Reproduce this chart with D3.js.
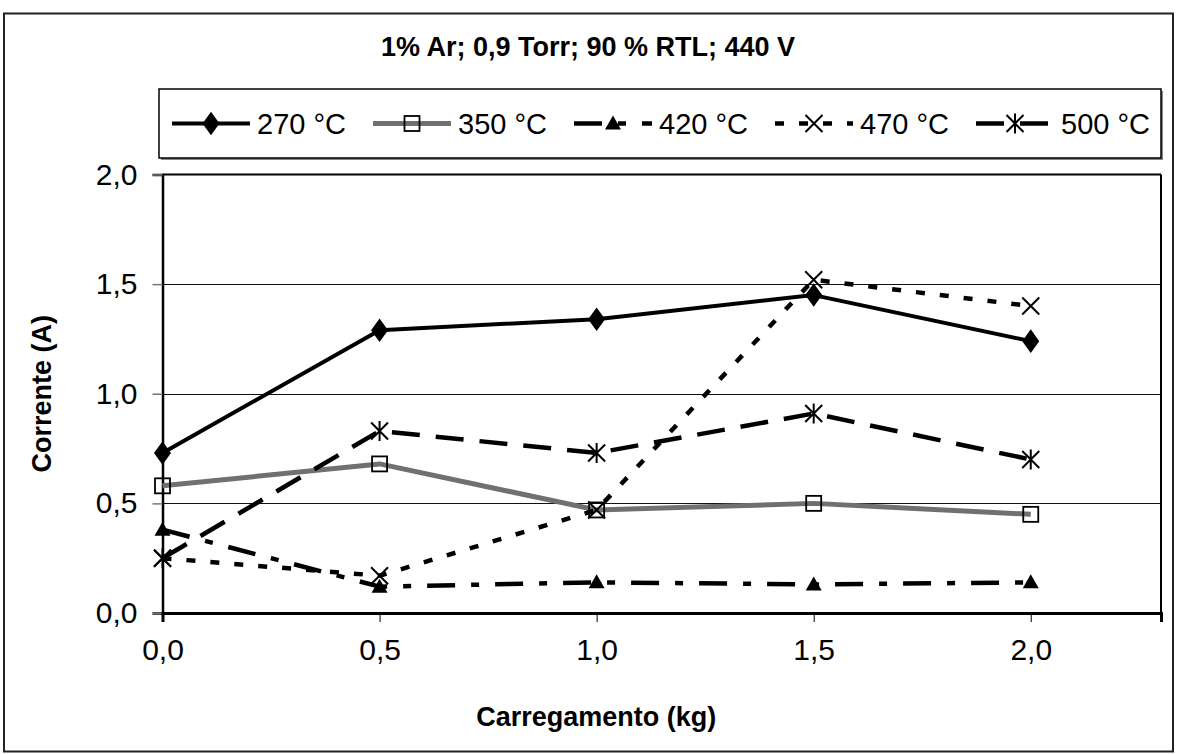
<!DOCTYPE html>
<html><head><meta charset="utf-8">
<script src="https://cdn.jsdelivr.net/npm/d3@7"></script>
<style>html,body{margin:0;padding:0;background:#fff;} svg{display:block;font-family:"Liberation Sans",Arial,sans-serif;}</style>
</head><body>
<svg id="chart" width="1177" height="754"></svg>
<script>
const carregamento = [0, 0.5, 1.0, 1.5, 2.0];
const serieNames = ["270 °C", "350 °C", "420 °C", "470 °C", "500 °C"];
const s270 = [0.73, 1.29, 1.34, 1.45, 1.24];
const s350 = [0.58, 0.68, 0.47, 0.50, 0.45];
const s420 = [0.38, 0.12, 0.14, 0.13, 0.14];
const s470 = [0.25, 0.17, 0.47, 1.52, 1.40];
const s500 = [0.25, 0.83, 0.73, 0.91, 0.70];
const xTicks = [0, 0.5, 1.0, 1.5, 2.0];
const yTicks = [0, 0.5, 1.0, 1.5, 2.0];
const titleText = "1% Ar; 0,9 Torr; 90 % RTL; 440 V";
const xTitle = "Carregamento (kg)";
const yTitle = "Corrente (A)";

const svg = d3.select("#chart");
const W = 1177, H = 754;
const plot = {l: 162.5, r: 1161, t: 174.5, b: 613};
const x = d3.scaleLinear().domain([0, 2.3]).range([plot.l, plot.r]);
const y = d3.scaleLinear().domain([0, 2.0]).range([plot.b, plot.t]);
const fmt = v => d3.format(".1f")(v).replace(".", ",");

svg.append("rect").attr("width", W).attr("height", H).attr("fill", "#fff");
// outer border
svg.append("rect").attr("x", 4).attr("y", 13.5).attr("width", 1169).attr("height", 738)
  .attr("fill", "none").attr("stroke", "#222").attr("stroke-width", 2);

// title
svg.append("text").attr("x", 588).attr("y", 56).attr("text-anchor", "middle")
  .attr("font-weight", "bold").attr("font-size", 27).text(titleText);

// gridlines
svg.append("g").selectAll("line").data(yTicks.filter(v => v > 0 && v < 2)).join("line")
  .attr("x1", plot.l).attr("x2", plot.r).attr("y1", d => Math.round(y(d)) + 0.5).attr("y2", d => Math.round(y(d)) + 0.5)
  .attr("stroke", "#111").attr("stroke-width", 1);

// plot border top/right
svg.append("line").attr("x1", plot.l).attr("x2", plot.r).attr("y1", plot.t).attr("y2", plot.t).attr("stroke", "#000").attr("stroke-width", 2);
svg.append("line").attr("x1", plot.r).attr("x2", plot.r).attr("y1", plot.t).attr("y2", plot.b).attr("stroke", "#000").attr("stroke-width", 2);

// axes
const yAxis = d3.axisLeft(y).tickValues(yTicks).tickFormat(fmt).tickSize(10).tickPadding(15);
const gy = svg.append("g").attr("transform", `translate(${plot.l},0)`).call(yAxis);
gy.select(".domain").attr("stroke", "#000").attr("stroke-width", 2.5);
gy.selectAll(".tick line").attr("stroke", "#777").attr("stroke-width", 1.5);
gy.selectAll(".tick text").attr("font-size", 30).attr("font-family", "Liberation Sans, Arial, sans-serif").attr("fill", "#000");

const xAxis = d3.axisBottom(x).tickValues(xTicks).tickFormat(fmt).tickSize(9).tickPadding(17);
const gx = svg.append("g").attr("transform", `translate(0,${plot.b})`).call(xAxis);
gx.select(".domain").attr("stroke", "#000").attr("stroke-width", 3);
gx.selectAll(".tick line").attr("stroke", "#000").attr("stroke-width", 1);
gx.selectAll(".tick text").attr("font-size", 30).attr("font-family", "Liberation Sans, Arial, sans-serif").attr("fill", "#000");

// axis titles
svg.append("text").attr("x", (plot.l + 1030) / 2).attr("y", 726).attr("text-anchor", "middle")
  .attr("font-weight", "bold").attr("font-size", 27).text(xTitle);
svg.append("text").attr("transform", `translate(51,${(plot.t + plot.b) / 2}) rotate(-90)`).attr("text-anchor", "middle")
  .attr("font-weight", "bold").attr("font-size", 27).text(yTitle);

// series definitions
const series = [
  {name: serieNames[0], values: s270, color: "#000", width: 4, dash: null, marker: "diamond"},
  {name: serieNames[1], values: s350, color: "#707070", width: 5, dash: null, marker: "square"},
  {name: serieNames[2], values: s420, color: "#000", width: 4.5, dash: "28,16,8,16", marker: "triangle"},
  {name: serieNames[3], values: s470, color: "#000", width: 4.5, dash: "9,15", marker: "x"},
  {name: serieNames[4], values: s500, color: "#000", width: 4.5, dash: "28,16", marker: "star"}
];

function drawMarker(g, type, cx, cy) {
  if (type === "diamond") {
    g.append("path").attr("d", d3.symbol(d3.symbolDiamond, 160)())
      .attr("transform", `translate(${cx},${cy}) scale(1.25,1)`).attr("fill", "#000");
  } else if (type === "square") {
    g.append("rect").attr("x", cx - 7.5).attr("y", cy - 7.5).attr("width", 15).attr("height", 15)
      .attr("fill", "none").attr("stroke", "#000").attr("stroke-width", 1.8);
  } else if (type === "triangle") {
    g.append("path").attr("d", `M${cx},${cy - 8}L${cx + 8},${cy + 6}L${cx - 8},${cy + 6}Z`).attr("fill", "#000");
  } else if (type === "x") {
    g.append("path").attr("d", `M${cx - 8.5},${cy - 8.5}L${cx + 8.5},${cy + 8.5}M${cx - 8.5},${cy + 8.5}L${cx + 8.5},${cy - 8.5}`)
      .attr("stroke", "#000").attr("stroke-width", 2).attr("fill", "none");
  } else if (type === "star") {
    g.append("path").attr("d", `M${cx - 8.5},${cy - 8.5}L${cx + 8.5},${cy + 8.5}M${cx - 8.5},${cy + 8.5}L${cx + 8.5},${cy - 8.5}M${cx},${cy - 10}L${cx},${cy + 10}`)
      .attr("stroke", "#000").attr("stroke-width", 2).attr("fill", "none");
  }
}

const line = d3.line().x(d => x(d[0])).y(d => y(d[1]));
const gSeries = svg.append("g");
series.forEach(s => {
  const pts = carregamento.map((c, i) => [c, s.values[i]]);
  gSeries.append("path").attr("d", line(pts)).attr("fill", "none").attr("stroke", s.color)
    .attr("stroke-width", s.width).attr("stroke-dasharray", s.dash).attr("stroke-linejoin", "round");
  const gm = gSeries.append("g");
  pts.forEach(p => drawMarker(gm, s.marker, x(p[0]), y(p[1])));
});

// legend
const leg = {l: 159, r: 1161, t: 89, b: 158};
svg.append("rect").attr("x", leg.l + 2).attr("y", leg.t + 2).attr("width", leg.r - leg.l).attr("height", leg.b - leg.t)
  .attr("fill", "#888");
svg.append("rect").attr("x", leg.l).attr("y", leg.t).attr("width", leg.r - leg.l).attr("height", leg.b - leg.t)
  .attr("fill", "#fff").attr("stroke", "#000").attr("stroke-width", 1.5);
const ly = (leg.t + leg.b) / 2;
const step = 201, x0 = 172, sampleLen = 78;
series.forEach((s, i) => {
  const sx = x0 + i * step;
  const g = svg.append("g");
  g.append("line").attr("x1", sx).attr("x2", sx + sampleLen).attr("y1", ly).attr("y2", ly)
    .attr("stroke", s.color).attr("stroke-width", s.width).attr("stroke-dasharray", s.dash);
  drawMarker(g, s.marker, sx + sampleLen / 2, ly);
  g.append("text").attr("x", sx + sampleLen + 7).attr("y", ly + 10.5).attr("font-size", 29).text(s.name);
});
</script>
</body></html>
